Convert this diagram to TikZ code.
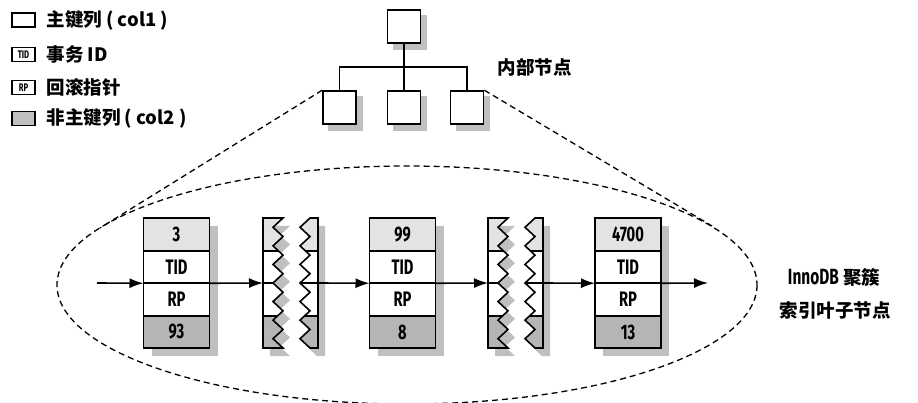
\documentclass[tikz,border=0pt]{standalone}
\usepackage{fontspec}
\setmainfont{Noto Sans CJK SC}
\newfontfamily\leaffont{Fira Sans}[FakeStretch=0.7]
\usetikzlibrary{positioning,arrows.meta,backgrounds,calc}

\tikzset{
  leftpiece/.style={insert path={(#1,218) -- (#1+20,218)
      \foreach \i in {1,...,7}{ -- (#1+10,{218+(\i-0.5)*130/7}) -- (#1+20,{218+\i*130/7}) }
      -- (#1,348) -- cycle}},
  rightpiece/.style={insert path={(#1+55,218) -- (#1+47,218)
      \foreach \i in {1,...,7}{ -- (#1+37,{218+(\i-0.5)*130/7}) -- (#1+47,{218+\i*130/7}) }
      -- (#1+55,348) -- cycle}}
}

\begin{document}
\begin{tikzpicture}[x=1pt, y=-1pt, line width=1.6pt,
    tree/.style={rectangle, draw, fill=white, minimum size=33pt, inner sep=0pt},
    cellkey/.style={rectangle, draw, fill=gray!22, minimum width=66pt, minimum height=32.5pt, inner sep=0pt, outer sep=0pt, font=\leaffont\bfseries\fontsize{21}{21}\selectfont},
    cellmid/.style={cellkey, fill=white},
    cellval/.style={cellkey, fill=gray!58},
    legbox/.style={rectangle, draw, minimum width=23pt, minimum height=14pt, inner sep=0pt, font=\leaffont\bfseries\fontsize{11}{11}\selectfont},
    legtext/.style={anchor=west, inner sep=0pt, font=\bfseries\fontsize{18.5}{18.5}\selectfont},
    pageshadow/.style={fill=gray!50, draw=none},
    link/.style={-{Latex[length=14pt,width=10pt]}, line width=1.6pt},
    lens/.style={dash pattern=on 6pt off 4pt, line width=1.3pt}]

    \useasboundingbox (0,0) rectangle (918,403);

    % Legend
    \node[legbox] (lkey) at (23.5,20) {};
    \node[legbox] (ltid) at (23.5,54.5) {TID};
    \node[legbox] (lrp) at (23.5,87.5) {RP};
    \node[legbox, fill=gray!50] (lval) at (23.5,118.5) {};
    \node[legtext, right=10pt of lkey] (tkey) {主键列 ( col1 )};
    \node[legtext, right=10pt of ltid] (ttid) {事务 ID};
    \node[legtext, right=10pt of lrp] (trp) {回滚指针};
    \node[legtext, right=10pt of lval] (tval) {非主键列 ( col2 )};

    % Internal nodes
    \node[tree] (root) at (404,26.5) {};
    \node[tree] (n1) at (339.5,107.5) {};
    \node[tree] (n2) at (404,107.5) {};
    \node[tree] (n3) at (467,107.5) {};
    \node[legtext] (inner) at (497,67) {内部节点};
    \coordinate (bar) at (404,67);
    \draw (root) -- (n2);
    \draw (n1.north) |- (bar) -| (n3.north);
    \begin{scope}[on background layer]
        \foreach \b in {root,n1,n2,n3}
            \fill[pageshadow] ($(\b.north west)+(6,6)$) rectangle ($(\b.south east)+(6,6)$);
    \end{scope}

    % Leaf pages
    \foreach \n/\x/\k/\v in {1/176.5/3/93, 2/402.5/99/8, 3/628/4700/13} {
        \node[cellkey] (k\n) at (\x,234.5) {\k};
        \node[cellmid, below=0pt of k\n] (tid\n) {TID};
        \node[cellmid, below=0pt of tid\n] (rp\n) {RP};
        \node[cellval, below=0pt of rp\n] (v\n) {\v};
        \begin{scope}[on background layer]
            \fill[pageshadow] ($(k\n.north west)+(8,8)$) rectangle ($(v\n.south east)+(8,8)$);
        \end{scope}
    }

    % Torn pages
    \foreach \t/\n in {263/1, 488/2} {
        \fill[pageshadow, shift={(7,8)}, leftpiece=\t];
        \fill[pageshadow, shift={(7,8)}, rightpiece=\t];
        \begin{scope}
            \clip[leftpiece=\t];
            \fill[gray!22] (\t,218) rectangle (\t+25,251);
            \fill[white] (\t,251) rectangle (\t+25,316);
            \fill[gray!58] (\t,316) rectangle (\t+25,348);
            \draw (\t,251) -- (\t+25,251) (\t,283) -- (\t+25,283) (\t,316) -- (\t+25,316);
        \end{scope}
        \begin{scope}
            \clip[rightpiece=\t];
            \fill[gray!22] (\t+30,218) rectangle (\t+55,251);
            \fill[white] (\t+30,251) rectangle (\t+55,316);
            \fill[gray!58] (\t+30,316) rectangle (\t+55,348);
            \draw (\t+30,251) -- (\t+55,251) (\t+30,283) -- (\t+55,283) (\t+30,316) -- (\t+55,316);
        \end{scope}
        \draw[leftpiece=\t];
        \draw[rightpiece=\t];
        \coordinate (tin\n) at (\t,283);
        \coordinate (tout\n) at (\t+55,283);
    }

    % Arrows
    \coordinate (start) at (97,283);
    \coordinate (stop) at (708,283);
    \draw[link] (start) -- (tid1.south west);
    \draw[link] (tid1.south east) -- (tin1);
    \draw[link] (tout1) -- (tid2.south west);
    \draw[link] (tid2.south east) -- (tin2);
    \draw[link] (tout2) -- (tid3.south west);
    \draw[link] (tid3.south east) -- (stop);

    % Leaf level outline
    \coordinate (lensc) at (407,285);
    \coordinate (tl) at (100,228);
    \coordinate (tr) at (712,226);
    \draw[lens] (lensc) ellipse [x radius=350, y radius=119];
    \draw[lens] (n1.north west) -- (tl);
    \draw[lens] (n3.north east) -- (tr);
    \node[legtext, anchor=center] (leafa) at (834,277) {{\leaffont\fontsize{22}{22}\selectfont InnoDB} 聚簇};
    \node[legtext, anchor=center] (leafb) at (835,310) {索引叶子节点};
\end{tikzpicture}
\end{document}
